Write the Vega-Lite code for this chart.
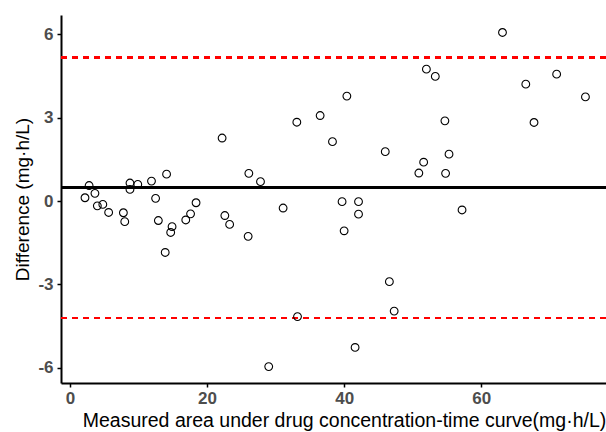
{
  "$schema": "https://vega.github.io/schema/vega-lite/v6.json",
  "width": 545,
  "height": 368,
  "autosize": {"type": "none"},
  "padding": {"left": 61, "top": 15, "right": 0, "bottom": 49},
  "background": "white",
  "config": {
    "view": {"stroke": null},
    "font": "Liberation Sans"
  },
  "data": {
    "values": [
      {"measured": 2.2, "difference": 0.12},
      {"measured": 2.8, "difference": 0.56},
      {"measured": 3.65, "difference": 0.28},
      {"measured": 4.0, "difference": -0.17},
      {"measured": 4.8, "difference": -0.12},
      {"measured": 5.65, "difference": -0.41},
      {"measured": 7.8, "difference": -0.42},
      {"measured": 8.0, "difference": -0.74},
      {"measured": 8.76, "difference": 0.65},
      {"measured": 8.76, "difference": 0.42},
      {"measured": 9.9, "difference": 0.6},
      {"measured": 11.9, "difference": 0.72},
      {"measured": 12.5, "difference": 0.1},
      {"measured": 14.1, "difference": 0.97},
      {"measured": 12.9, "difference": -0.7},
      {"measured": 13.9, "difference": -1.85},
      {"measured": 14.9, "difference": -0.92},
      {"measured": 14.7, "difference": -1.13},
      {"measured": 16.9, "difference": -0.68},
      {"measured": 17.6, "difference": -0.46},
      {"measured": 18.4, "difference": -0.06},
      {"measured": 22.2, "difference": 2.27},
      {"measured": 26.1, "difference": 1.0},
      {"measured": 27.8, "difference": 0.7},
      {"measured": 33.1, "difference": 2.84},
      {"measured": 36.5, "difference": 3.08},
      {"measured": 38.3, "difference": 2.14},
      {"measured": 46.0, "difference": 1.78},
      {"measured": 22.6, "difference": -0.52},
      {"measured": 23.3, "difference": -0.84},
      {"measured": 26.0, "difference": -1.27},
      {"measured": 31.1, "difference": -0.25},
      {"measured": 39.7, "difference": -0.02},
      {"measured": 42.1, "difference": -0.02},
      {"measured": 42.1, "difference": -0.47},
      {"measured": 40.0, "difference": -1.07},
      {"measured": 46.6, "difference": -2.9},
      {"measured": 47.3, "difference": -3.96},
      {"measured": 33.2, "difference": -4.16},
      {"measured": 41.6, "difference": -5.27},
      {"measured": 29.0, "difference": -5.96},
      {"measured": 40.4, "difference": 3.78},
      {"measured": 63.1, "difference": 6.07},
      {"measured": 52.0, "difference": 4.75},
      {"measured": 53.3, "difference": 4.49},
      {"measured": 71.0, "difference": 4.57},
      {"measured": 66.5, "difference": 4.21},
      {"measured": 75.2, "difference": 3.75},
      {"measured": 54.7, "difference": 2.89},
      {"measured": 67.7, "difference": 2.83},
      {"measured": 51.6, "difference": 1.4},
      {"measured": 55.3, "difference": 1.69},
      {"measured": 50.9, "difference": 1.01},
      {"measured": 54.8, "difference": 1.0},
      {"measured": 57.2, "difference": -0.32}
    ]
  },
  "layer": [
    {
      "mark": {"type": "rule", "color": "#FF0000", "strokeWidth": 1.5, "strokeDash": [6, 5]},
      "encoding": {"y": {"datum": 5.17, "type": "quantitative"}}
    },
    {
      "mark": {"type": "rule", "color": "#FF0000", "strokeWidth": 1.5, "strokeDash": [6, 5]},
      "encoding": {"y": {"datum": -4.2, "type": "quantitative"}}
    },
    {
      "mark": {"type": "rule", "color": "#000000", "strokeWidth": 2},
      "encoding": {"y": {"datum": 0.49, "type": "quantitative"}}
    },
    {
      "mark": {"type": "point", "shape": "circle", "filled": false, "stroke": "#000000", "strokeWidth": 1.1, "size": 60, "opacity": 1},
      "encoding": {
        "x": {
          "field": "measured",
          "type": "quantitative",
          "scale": {"domain": [-1.3, 78.2], "nice": false, "zero": false},
          "axis": {
            "title": "Measured area under drug concentration-time curve(mg·h/L)",
            "values": [0, 20, 40, 60],
            "labelExpr": "'' + datum.value",
            "grid": false,
            "domainColor": "#000000",
            "domainWidth": 2,
            "tickColor": "#000000",
            "tickWidth": 1.5,
            "tickSize": 4,
            "labelFontSize": 17,
            "labelFontWeight": "bold",
            "labelColor": "#4D4D4D",
            "labelPadding": 3,
            "titleFontSize": 19.5,
            "titleFontWeight": "normal",
            "titleColor": "#000000",
            "titlePadding": 5,
            "titleX": 283
          }
        },
        "y": {
          "field": "difference",
          "type": "quantitative",
          "scale": {"domain": [-6.55, 6.7], "nice": false, "zero": false},
          "axis": {
            "title": "Difference (mg·h/L)",
            "values": [-6, -3, 0, 3, 6],
            "labelExpr": "'' + datum.value",
            "grid": false,
            "domainColor": "#000000",
            "domainWidth": 2,
            "tickColor": "#000000",
            "tickWidth": 1.5,
            "tickSize": 4,
            "labelFontSize": 17,
            "labelFontWeight": "bold",
            "labelColor": "#4D4D4D",
            "labelPadding": 4,
            "titleFontSize": 19,
            "titleFontWeight": "normal",
            "titleColor": "#000000",
            "titlePadding": 5
          }
        }
      }
    }
  ]
}
